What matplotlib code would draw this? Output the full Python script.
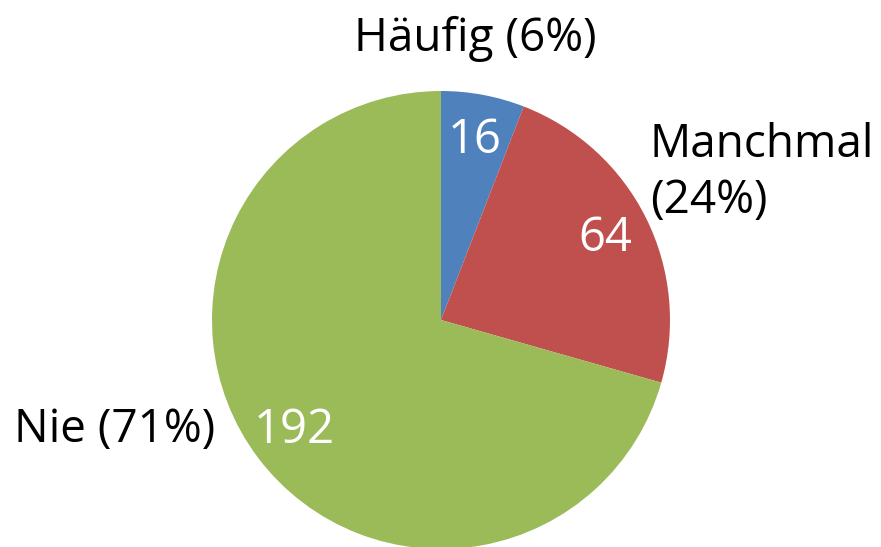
import matplotlib
matplotlib.use("Agg")
import matplotlib.pyplot as plt

categories = ["Häufig", "Manchmal", "Nie"]
counts = [16, 64, 192]
colors = ["#4F81BD", "#C0504D", "#9BBB59"]

plt.rcParams["font.family"] = ["Open Sans", "DejaVu Sans"]

fig = plt.figure(figsize=(8.81, 5.47), dpi=100)
ax = fig.add_axes([0, 0, 1, 1])

total = sum(counts)
wedges, texts, autotexts = ax.pie(
    counts,
    colors=colors,
    startangle=90,
    counterclock=False,
    center=(441, 227),
    radius=229,
    autopct=lambda p: f"{round(p * total / 100):d}",
    pctdistance=0.8,
    textprops={"color": "white", "fontsize": 34},
    frame=True,
)
ax.set_xlim(0, 881)
ax.set_ylim(0, 547)
ax.set_aspect("equal")
ax.axis("off")

pcts = [round(c / total * 100) for c in counts]
ax.text(475, 508, f"{categories[0]} ({pcts[0]}%)", fontsize=33, ha="center", va="center")
ax.text(650, 374, f"{categories[1]}\n({pcts[1]}%)", fontsize=33, ha="left", va="center",
        linespacing=1.3)
ax.text(215, 117, f"{categories[2]} ({pcts[2]}%)", fontsize=33, ha="right", va="center")

fig.savefig("out.png", dpi=100)
